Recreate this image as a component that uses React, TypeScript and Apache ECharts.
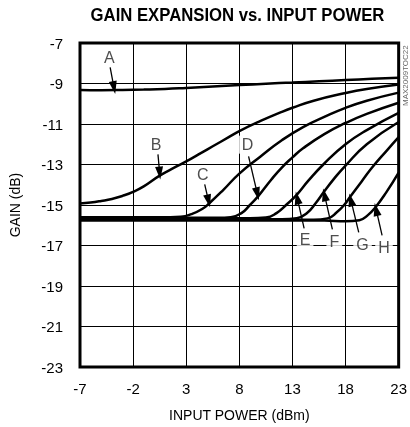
import React, { useEffect, useRef } from "react";
import * as echarts from "echarts";

const xTicks = [-7, -2, 3, 8, 13, 18, 23];
const yTicks = [-23, -21, -19, -17, -15, -13, -11, -9, -7];

const curveA: [number, number][] = [[-7,-9.32],[-5,-9.33],[-3,-9.32],[-1,-9.3],[1,-9.27],[3,-9.22],[5.5,-9.15],[8,-9.08],[10.5,-9.01],[13,-8.95],[15.5,-8.89],[18,-8.83],[20.5,-8.77],[23,-8.72]];
const curveB: [number, number][] = [[-7,-14.93],[-6,-14.88],[-5,-14.8],[-4,-14.7],[-3,-14.55],[-2,-14.35],[-1,-14.08],[0.5,-13.55],[2,-13.12],[3,-12.85],[4.5,-12.4],[5.5,-12.1],[7,-11.65],[8,-11.35],[10,-10.85],[12,-10.4],[13,-10.2],[15,-9.85],[18,-9.47],[20,-9.27],[23,-9.05]];
const curveC: [number, number][] = [[-7,-15.6],[-2,-15.6],[1.5,-15.6],[2.5,-15.58],[3.5,-15.45],[4.5,-15.2],[5.2,-14.9],[6.5,-14.25],[8,-13.45],[10,-12.6],[12,-11.8],[14,-11.15],[16,-10.65],[18,-10.2],[20,-9.85],[23,-9.45]];
const curveD: [number, number][] = [[-7,-15.63],[0,-15.63],[6,-15.63],[7.2,-15.6],[8.2,-15.4],[9,-15.0],[9.8,-14.55],[11,-13.75],[12,-13.15],[13,-12.65],[14,-12.2],[16,-11.5],[18,-10.95],[20,-10.5],[23,-9.95]];
const curveE: [number, number][] = [[-7,-15.66],[0,-15.66],[9,-15.66],[10.5,-15.62],[11.5,-15.4],[12.5,-14.95],[13.4,-14.5],[14.5,-13.8],[16,-12.95],[18,-12.0],[20,-11.3],[23,-10.45]];
const curveF: [number, number][] = [[-7,-15.7],[0,-15.7],[12,-15.7],[13.4,-15.65],[14.4,-15.38],[15.2,-14.9],[15.9,-14.4],[17,-13.65],[18,-13.05],[20,-12.0],[23,-10.9]];
const curveG: [number, number][] = [[-7,-15.73],[0,-15.73],[15,-15.73],[16.3,-15.66],[17.2,-15.35],[17.9,-14.98],[18.4,-14.62],[19.5,-13.85],[20.5,-13.15],[21.9,-12.3],[23,-11.65]];
const curveH: [number, number][] = [[-7,-15.77],[0,-15.77],[16,-15.77],[18,-15.8],[19.3,-15.75],[20.1,-15.5],[20.8,-15.12],[21.8,-14.4],[23,-13.4]];

const curves = [curveA, curveB, curveC, curveD, curveE, curveF, curveG, curveH];

const letters = ["A", "B", "C", "D", "E", "F", "G", "H"];
const letterPos: [number, number][] = [[-4.25,-7.74],[0.16,-12.02],[4.56,-13.5],[8.78,-12.02],[14.19,-16.7],[16.94,-16.8],[19.6,-16.95],[21.62,-17.1]];
const arrowFrom: [number, number][] = [[-4.16,-8.2],[0.34,-12.5],[4.74,-13.98],[8.87,-12.6],[14.1,-16.15],[16.76,-16.2],[19.24,-16.35],[21.44,-16.5]];
const arrowTip: [number, number][] = [[-3.8,-9.2],[0.5,-13.42],[5.1,-14.8],[9.7,-14.45],[13.45,-14.65],[16.02,-14.5],[18.5,-14.75],[20.88,-15.22]];

const FONT = "'Liberation Sans', Arial, sans-serif";

export default function App() {
  const ref = useRef<HTMLDivElement>(null);
  useEffect(() => {
    document.body.style.margin = "0";
    const chart = echarts.init(ref.current!, null, { renderer: "svg" });
    const lineSeries = curves.map((d, i) => ({
      type: "line",
      name: letters[i],
      data: d,
      showSymbol: false,
      smooth: 0.5,
      lineStyle: { color: "#000", width: 2.5 },
      silent: true,
      z: 3,
    }));
    const option: any = {
      animation: false,
      grid: {
        left: 75, right: 8, top: 43, bottom: 59,
        show: true, borderColor: "#000", borderWidth: 3, backgroundColor: "transparent",
      },
      xAxis: {
        type: "value", min: -7, max: 23,
        name: "INPUT POWER (dBm)", nameLocation: "middle", nameGap: 41,
        nameTextStyle: { fontFamily: FONT, fontSize: 14, color: "#000" },
        axisLine: { show: false },
        axisTick: { show: false, customValues: xTicks },
        axisLabel: { customValues: xTicks, fontFamily: FONT, fontSize: 15, color: "#000", margin: 14 },
        splitLine: { show: true, lineStyle: { color: "#000", width: 1 } },
      },
      yAxis: {
        type: "value", min: -23, max: -7,
        name: "GAIN (dB)", nameLocation: "middle", nameGap: 58,
        nameTextStyle: { fontFamily: FONT, fontSize: 14, color: "#000" },
        axisLine: { show: false },
        axisTick: { show: false, customValues: yTicks },
        axisLabel: { customValues: yTicks, fontFamily: FONT, fontSize: 15, color: "#000", margin: 17 },
        splitLine: { show: true, lineStyle: { color: "#000", width: 1 } },
      },
      graphic: [
        {
          type: "text", x: 237.5, y: 15, scaleX: 0.88,
          style: { text: "GAIN EXPANSION vs. INPUT POWER", fontFamily: FONT, fontWeight: "bold", fontSize: 19, fill: "#000", textAlign: "center", textVerticalAlign: "middle" },
        },
        {
          type: "text", x: 405, y: 106, rotation: Math.PI / 2,
          style: { text: "MAX2009TOC22", fontFamily: FONT, fontSize: 8, fill: "#666", textAlign: "left", textVerticalAlign: "middle" },
        },
      ],
      series: [
        ...lineSeries,
        {
          type: "scatter",
          data: letterPos.map((p, i) => [p[0], p[1], letters[i]]),
          symbolSize: 0,
          silent: true,
          z: 10,
          label: {
            show: true, position: "inside", formatter: (p: any) => p.data[2],
            fontFamily: FONT, fontSize: 16, color: "#222",
            backgroundColor: "#fff", padding: [1, 3],
          },
          markLine: {
            silent: true,
            symbol: ["none", "triangle"],
            symbolSize: [8, 13],
            label: { show: false },
            lineStyle: { color: "#000", width: 1.3, type: "solid" },
            data: arrowFrom.map((f, i) => [{ coord: f }, { coord: arrowTip[i] }]),
          },
        },
      ],
    };
    chart.setOption(option);
    return () => chart.dispose();
  }, []);
  return <div ref={ref} style={{ position: "fixed", left: 0, top: 0, width: 410, height: 427 }} />;
}
